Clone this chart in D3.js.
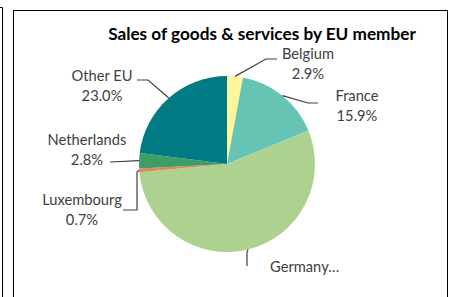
<!DOCTYPE html>
<html>
<head>
<meta charset="utf-8">
<script src="https://cdn.jsdelivr.net/npm/d3@7"></script>
<style>
    body { margin: 0; background: #fff; }
    svg { display: block; }
    .label { font-family: Lato, "Open Sans", sans-serif; font-size: 14.7px; fill: #404040; }
    .title { font-family: Lato, "Open Sans", sans-serif; font-size: 17.2px; font-weight: bold; fill: #000; }
</style>
</head>
<body>
<div id="chart"></div>
<script>
// data
const members = ["Belgium", "France", "Germany", "Luxembourg", "Netherlands", "Other EU"];
const shares = [2.9, 15.9, 54.7, 0.7, 2.8, 23.0];
const shareLabels = ["2.9%", "15.9%", "", "0.7%", "2.8%", "23.0%"];
const memberLabels = ["Belgium", "France", "Germany…", "Luxembourg", "Netherlands", "Other EU"];
const sliceColors = ["#fff599", "#66c4b4", "#add18e", "#e0875e", "#3e9c66", "#007b83"];

const width = 449;
const height = 297;
const center = { x: 227, y: 164 };
const radius = 88;

// leader line + label layout, relative to the pie center
const labelLayout = [
    { pts: [[39, -105], [50, -105]], tx: 81, ty: -105, anchor: "middle" },
    { pts: [[81, -61], [91, -61]], tx: 130, ty: -63, anchor: "middle" },
    { pts: [[20, 88], [20, 102]], tx: 43, ty: 108, anchor: "start" },
    { pts: [[-90, 8], [-90, 46], [-104, 46]], tx: -145, ty: 41, anchor: "middle" },
    { pts: [[-117, -2]], tx: -140, ty: -19, anchor: "middle" },
    { pts: [[-79, -84], [-90, -84]], tx: -125, ty: -83, anchor: "middle" }
];

const svg = d3.select("#chart").append("svg")
    .attr("width", width)
    .attr("height", height);

// frames (neighbour box edge + chart box)
svg.append("path")
    .attr("d", "M0,7.5 H2.5 V297")
    .attr("fill", "none")
    .attr("stroke", "#000")
    .attr("stroke-width", 1);

svg.append("rect")
    .attr("x", 13.5).attr("y", 10.5)
    .attr("width", 434).attr("height", 300)
    .attr("fill", "none")
    .attr("stroke", "#000")
    .attr("stroke-width", 1);

svg.append("text")
    .attr("class", "title")
    .attr("x", 262)
    .attr("y", 40)
    .attr("text-anchor", "middle")
    .text("Sales of goods & services by EU member");

const pie = d3.pie()
    .sort(null)
    .value((d) => d);

const arcs = pie(shares);

const arc = d3.arc()
    .innerRadius(0)
    .outerRadius(radius);

const edgeArc = d3.arc()
    .innerRadius(radius)
    .outerRadius(radius);

const g = svg.append("g")
    .attr("transform", `translate(${center.x}, ${center.y})`);

g.selectAll("path.slice")
    .data(arcs)
    .enter()
    .append("path")
    .attr("class", "slice")
    .attr("d", arc)
    .attr("fill", (d, i) => sliceColors[i])
    .attr("stroke", "none");

// leader lines start on the slice edge
g.selectAll("path.leader")
    .data(arcs)
    .enter()
    .append("path")
    .attr("class", "leader")
    .attr("d", (d, i) => d3.line()([edgeArc.centroid(d), ...labelLayout[i].pts]))
    .attr("fill", "none")
    .attr("stroke", "#404040")
    .attr("stroke-width", 1.2);

const labels = g.selectAll("text.label")
    .data(arcs)
    .enter()
    .append("text")
    .attr("class", "label")
    .attr("text-anchor", (d, i) => labelLayout[i].anchor)
    .attr("x", (d, i) => labelLayout[i].tx)
    .attr("y", (d, i) => labelLayout[i].ty);

labels.each((d, i, nodes) => {
    let text = d3.select(nodes[i]);
    text.append("tspan").text(memberLabels[i]);
    if (shareLabels[i] !== "")
    {
        text.append("tspan")
            .attr("x", labelLayout[i].tx)
            .attr("dy", 19.5)
            .text(shareLabels[i]);
    }
});
</script>
</body>
</html>
